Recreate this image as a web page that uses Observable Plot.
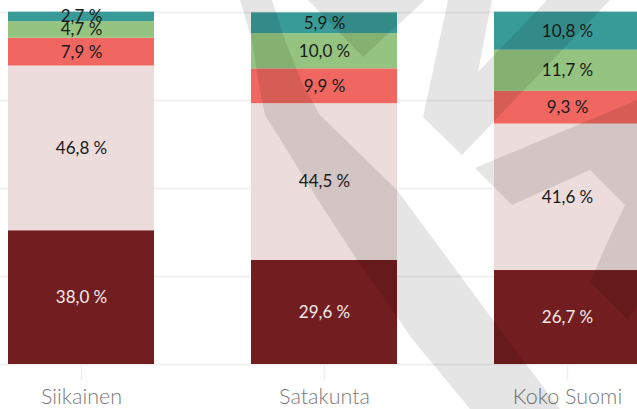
<!DOCTYPE html>
<html>
<head>
<meta charset="utf-8">
<script src="https://cdn.jsdelivr.net/npm/d3@7"></script>
<script src="https://cdn.jsdelivr.net/npm/@observablehq/plot@0.6"></script>
<style>
  html, body { margin: 0; padding: 0; background: #fff; overflow: hidden; }
  #wrap { position: relative; width: 637px; height: 409px; }
  #wrap svg { display: block; }
  #wm { position: absolute; left: 0; top: 0; pointer-events: none; }
</style>
</head>
<body>
<div id="wrap"></div>
<script>
const areas = ["Siikainen", "Satakunta", "Koko Suomi"];
const levels = ["Perusaste", "Keskiaste", "Alin korkea-aste", "Alempi korkeakouluaste", "Ylempi korkeakouluaste"];
const colors = ["#721e20", "#ecdcdc", "#ef6760", "#94c47f", "#389b97"];
const siikainen = [38.0, 46.8, 7.9, 4.7, 2.7];
const satakunta = [29.6, 44.5, 9.9, 10.0, 5.9];
const kokoSuomi = [26.7, 41.6, 9.3, 11.7, 10.8];
const yTicks = [0, 25, 50, 75, 100];

const series = [siikainen, satakunta, kokoSuomi];
const data = [];
areas.forEach((a, i) => levels.forEach((l, j) => data.push({area: a, level: l, value: series[i][j]})));
const fmt = v => d3.format(".1f")(v).replace(".", ",") + " %";

const chart = Plot.plot({
  width: 637,
  height: 409,
  marginTop: 12,
  marginBottom: 45,
  marginLeft: 0,
  marginRight: 0,
  style: {fontFamily: "Lato, 'Open Sans', sans-serif", background: "#fff"},
  x: {type: "band", domain: areas, range: [0, 648], paddingInner: 0.4, paddingOuter: 0.033, label: null},
  y: {domain: [0, 100], axis: null},
  color: {domain: levels, range: colors},
  marks: [
    Plot.gridY(yTicks, {stroke: "#f0f0f0", strokeOpacity: 1, strokeWidth: 2}),
    Plot.barY(data, {x: "area", y: "value", fill: "level", order: levels}),
    Plot.text(data, Plot.stackY({
      x: "area", y: "value", z: "level", order: levels,
      text: d => fmt(d.value),
      fill: d => d.level === levels[0] ? "#f2eaea" : "#1a1a1a",
      fontSize: 17
    })),
    Plot.axisX({tickSize: 16, tickPadding: 8, stroke: "#eeeeee", strokeWidth: 1.5, fill: "#7a7a7a", fontSize: 21.5, fontWeight: 300})
  ]
});
document.getElementById("wrap").appendChild(chart);

// decorative background watermark (logo), not data
const wmShapes = [
  [[240,0],[272,0],[285,40],[303,85],[320,115],[397,190],[493,320],[560,409],[470,409],[413,340],[357,260],[318,200],[265,115],[258,80],[252,40]],
  [[308,0],[425,0],[363,57]],
  [[448,0],[492,0],[478,72],[547,0],[610,0],[462,155],[423,117]],
  [[475,168],[637,100],[637,193],[625,205],[590,170],[512,205]],
  [[637,193],[625,205],[607,243],[590,282],[628,320],[637,307]]
];
const ns = "http://www.w3.org/2000/svg";
const wm = document.createElementNS(ns, "svg");
wm.setAttribute("id", "wm");
wm.setAttribute("width", 637);
wm.setAttribute("height", 409);
for (const s of wmShapes) {
  const p = document.createElementNS(ns, "polygon");
  p.setAttribute("points", s.map(q => q.join(",")).join(" "));
  p.setAttribute("fill", "rgba(0,0,0,0.1)");
  wm.appendChild(p);
}
document.getElementById("wrap").appendChild(wm);
</script>
</body>
</html>
